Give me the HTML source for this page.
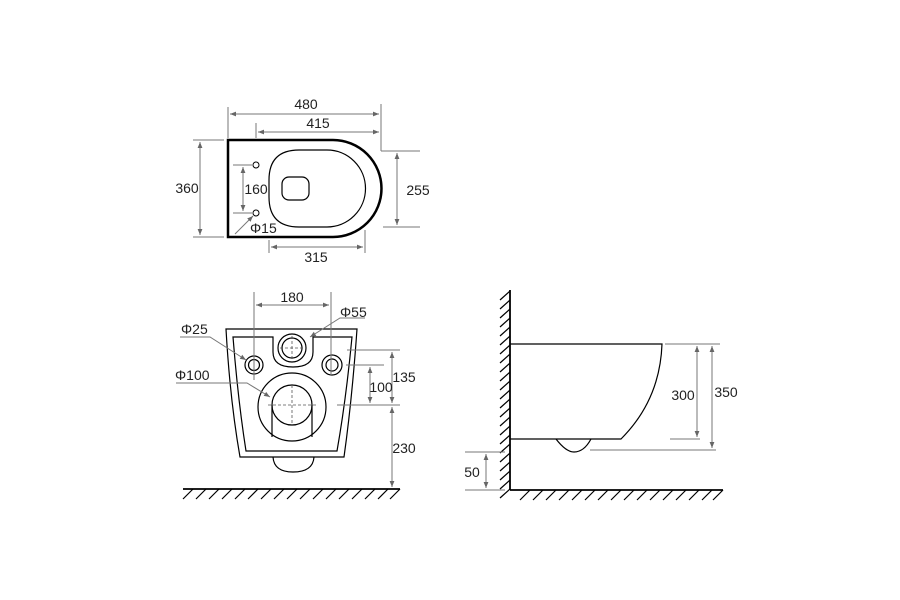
<!DOCTYPE html>
<html><head><style>body{margin:0;background:#fff}svg{display:block}text{font-family:"Liberation Sans",Arial,sans-serif;font-size:14px;fill:#222}</style></head>
<body>
<svg width="900" height="600" viewBox="0 0 900 600" xmlns="http://www.w3.org/2000/svg">
<defs>
<marker id="a" viewBox="0 0 10 10" refX="10" refY="5" markerWidth="6" markerHeight="6" orient="auto-start-reverse"><path d="M0,1 L10,5 L0,9 z" fill="#666"/></marker>
</defs>
<g fill="none" stroke="#000">
<path d="M228,140 H333 A48.5,48.5 0 0 1 333,237 H228 Z" stroke-width="2.5"/>
<path d="M299,150 H327 A38.5,38.5 0 0 1 327,227 H299 Q269,227 269,197 V180 Q269,150 299,150 Z" stroke-width="1.2"/>
<rect x="282" y="177" width="27" height="23" rx="7" stroke-width="1.2"/>
<circle cx="256" cy="165" r="3" stroke-width="1"/>
<circle cx="256" cy="213" r="3" stroke-width="1"/>
</g>
<g stroke="#777" stroke-width="1" fill="none">
<line x1="228" y1="107" x2="228" y2="138"/><line x1="381" y1="104" x2="381" y2="151"/><line x1="381" y1="151" x2="420" y2="151"/>
<line x1="230" y1="114" x2="379" y2="114" marker-start="url(#a)" marker-end="url(#a)"/>
<line x1="256" y1="123" x2="256" y2="138"/>
<line x1="258" y1="132" x2="379" y2="132" marker-start="url(#a)" marker-end="url(#a)"/>
<line x1="193" y1="140" x2="224" y2="140"/><line x1="193" y1="237" x2="224" y2="237"/>
<line x1="200" y1="142" x2="200" y2="235" marker-start="url(#a)" marker-end="url(#a)"/>
<line x1="233" y1="165" x2="252" y2="165"/><line x1="233" y1="213" x2="252" y2="213"/>
<line x1="243" y1="167" x2="243" y2="211" marker-start="url(#a)" marker-end="url(#a)"/>
<line x1="383" y1="227" x2="420" y2="227"/>
<line x1="397" y1="153" x2="397" y2="225" marker-start="url(#a)" marker-end="url(#a)"/>
<line x1="269" y1="240" x2="269" y2="253"/><line x1="365" y1="230" x2="365" y2="253"/>
<line x1="271" y1="247" x2="363" y2="247" marker-start="url(#a)" marker-end="url(#a)"/>
<line x1="235" y1="234" x2="253" y2="216" marker-end="url(#a)"/>
</g>
<text x="306" y="109" text-anchor="middle">480</text>
<text x="318" y="128" text-anchor="middle">415</text>
<text x="187" y="193" text-anchor="middle">360</text>
<text x="256" y="194" text-anchor="middle">160</text>
<text x="418" y="195" text-anchor="middle">255</text>
<text x="316" y="262" text-anchor="middle">315</text>
<text x="250" y="233">Φ15</text>

<g fill="none" stroke="#000" stroke-width="1.2">
<path d="M226,329 H357 Q352,400 344,457 H240 Q230,400 226,329 Z"/>
<path d="M233,337 H273 V352 Q273,367 293,367 Q313,367 313,352 V337 H352 Q346,400 337,451 H246 Q238,400 233,337 Z"/>
<circle cx="292" cy="348" r="14"/><circle cx="292" cy="348" r="10"/>
<circle cx="254" cy="365" r="9"/><circle cx="254" cy="365" r="5.5"/>
<circle cx="332" cy="365" r="10"/><circle cx="332" cy="365" r="6"/>
<circle cx="292" cy="407" r="34"/><circle cx="292" cy="405" r="20"/>
<path d="M272,405 V437 M312,405 V437"/>
<path d="M273,457 Q274,472 293,472 Q313,472 314,457"/>
</g>
<g stroke="#555" stroke-width="0.8" stroke-dasharray="3,2">
<line x1="280" y1="348" x2="304" y2="348"/><line x1="292" y1="336" x2="292" y2="360"/>
<line x1="268" y1="405" x2="316" y2="405"/><line x1="292" y1="385" x2="292" y2="425"/>
</g>
<g stroke="#000" stroke-width="1.8">
<line x1="183" y1="489" x2="400" y2="489"/>
</g>
<g stroke="#000" stroke-width="1.2">
<path d="M193,489 l-10,10 M206,489 l-10,10 M219,489 l-10,10 M232,489 l-10,10 M245,489 l-10,10 M258,489 l-10,10 M271,489 l-10,10 M284,489 l-10,10 M297,489 l-10,10 M310,489 l-10,10 M323,489 l-10,10 M336,489 l-10,10 M349,489 l-10,10 M362,489 l-10,10 M375,489 l-10,10 M388,489 l-10,10 M400,489 l-10,10"/>
</g>
<g stroke="#777" stroke-width="1" fill="none">
<line x1="254" y1="292" x2="254" y2="380"/><line x1="331" y1="292" x2="331" y2="375"/>
<line x1="256" y1="305" x2="329" y2="305" marker-start="url(#a)" marker-end="url(#a)"/>
<polyline points="365,318 340,318 310,337" marker-end="url(#a)"/>
<polyline points="180,337 210,337 246,360" marker-end="url(#a)"/>
<polyline points="176,383 247,383 270,397" marker-end="url(#a)"/>
<line x1="347" y1="350" x2="400" y2="350"/><line x1="337" y1="405" x2="400" y2="405"/><line x1="346" y1="365" x2="384" y2="365"/>
<line x1="392" y1="352" x2="392" y2="403" marker-start="url(#a)" marker-end="url(#a)"/>
<line x1="370" y1="367" x2="370" y2="403" marker-start="url(#a)" marker-end="url(#a)"/>
<line x1="392" y1="407" x2="392" y2="487" marker-start="url(#a)" marker-end="url(#a)"/>
</g>
<text x="292" y="302" text-anchor="middle">180</text>
<text x="340" y="317">Φ55</text>
<text x="181" y="334">Φ25</text>
<text x="175" y="380">Φ100</text>
<text x="404" y="382" text-anchor="middle">135</text>
<text x="381" y="392" text-anchor="middle">100</text>
<text x="404" y="453" text-anchor="middle">230</text>

<g stroke="#000" stroke-width="1.8" fill="none">
<line x1="510" y1="290" x2="510" y2="490"/><line x1="510" y1="490" x2="723" y2="490"/>
</g>
<g stroke="#000" stroke-width="1.2" fill="none">
<path d="M500,300 l10,-9 M500,309 l10,-9 M500,318 l10,-9 M500,327 l10,-9 M500,336 l10,-9 M500,345 l10,-9 M500,354 l10,-9 M500,363 l10,-9 M500,372 l10,-9 M500,381 l10,-9 M500,390 l10,-9 M500,399 l10,-9 M500,408 l10,-9 M500,417 l10,-9 M500,426 l10,-9 M500,435 l10,-9 M500,444 l10,-9 M500,453 l10,-9 M500,462 l10,-9 M500,471 l10,-9 M500,480 l10,-9 M500,489 l10,-9 M500,498 l10,-9"/>
<path d="M520,500 l10,-10 M533,500 l10,-10 M546,500 l10,-10 M559,500 l10,-10 M572,500 l10,-10 M585,500 l10,-10 M598,500 l10,-10 M611,500 l10,-10 M624,500 l10,-10 M637,500 l10,-10 M650,500 l10,-10 M663,500 l10,-10 M676,500 l10,-10 M689,500 l10,-10 M702,500 l10,-10 M713,500 l10,-10"/>
<path d="M510,344 H662 Q660,400 621,439 H510"/>
<path d="M556,439 Q566,452 574,452 Q584,452 591,439"/>
</g>
<g stroke="#777" stroke-width="1" fill="none">
<line x1="665" y1="344" x2="720" y2="344"/><line x1="670" y1="439" x2="700" y2="439"/><line x1="590" y1="450" x2="716" y2="450"/>
<line x1="697" y1="346" x2="697" y2="437" marker-start="url(#a)" marker-end="url(#a)"/>
<line x1="712" y1="346" x2="712" y2="448" marker-start="url(#a)" marker-end="url(#a)"/>
<line x1="465" y1="452" x2="505" y2="452"/><line x1="465" y1="490" x2="505" y2="490"/>
<line x1="486" y1="454" x2="486" y2="488" marker-start="url(#a)" marker-end="url(#a)"/>
</g>
<text x="683" y="400" text-anchor="middle">300</text>
<text x="726" y="397" text-anchor="middle">350</text>
<text x="472" y="477" text-anchor="middle">50</text>
</svg>
</body></html>
